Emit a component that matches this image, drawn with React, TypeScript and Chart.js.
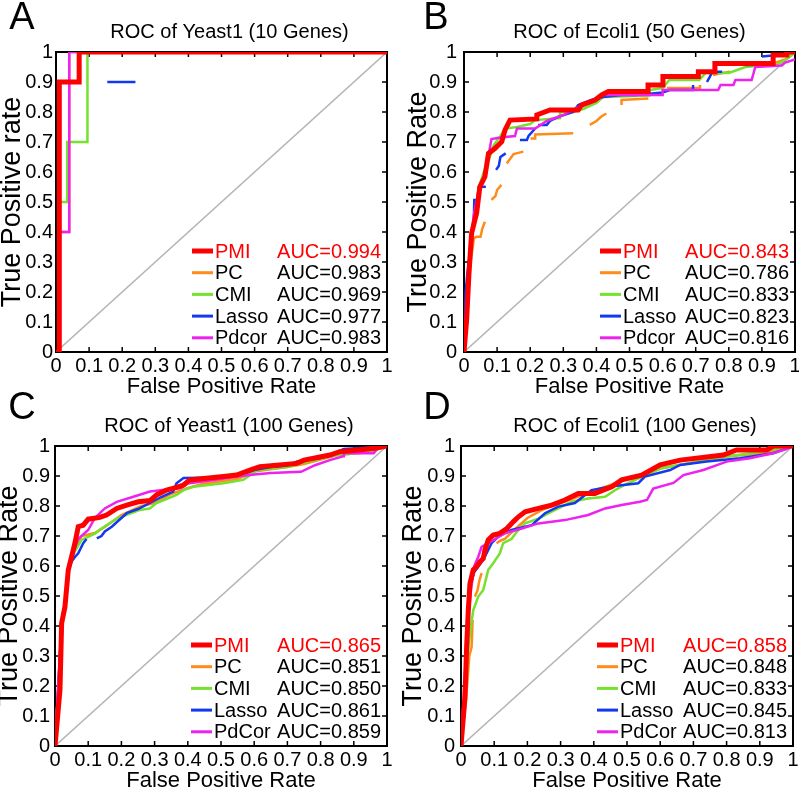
import React, { useEffect, useRef } from 'react';
import { Chart, registerables } from 'chart.js';

Chart.register(...registerables);

type Pt = [number, number] | null;

const FONT = '"Liberation Sans", Arial, Helvetica, sans-serif';

const TICK_VALUES = [0, 0.1, 0.2, 0.3, 0.4, 0.5, 0.6, 0.7, 0.8, 0.9, 1];
const TICK_LABELS = ['0', '0.1', '0.2', '0.3', '0.4', '0.5', '0.6', '0.7', '0.8', '0.9', '1'];

const METHOD_COLORS = ['#ff0000', '#ff8c1a', '#74e22e', '#1438f0', '#ee22ee'];
const METHOD_WIDTHS = [5, 2.5, 2.5, 2.5, 2.5];
const LEGEND_WIDTHS = [5, 3, 3, 3, 3];
const DRAW_ORDER = [0, 4, 3, 2, 1];
const DIAGONAL: Pt[] = [[0, 0], [1, 1]];

// ---------- Panel A : Yeast1 (10 genes) ----------
const A_NAMES = ['PMI', 'PC', 'CMI', 'Lasso', 'Pdcor'];
const A_AUC = ['0.994', '0.983', '0.969', '0.977', '0.983'];
const A_PMI: Pt[] = [[0, 0], [0.01, 0], [0.01, 0.9], [0.07, 0.9], [0.07, 1], [1, 1]];
const A_PC: Pt[] = [[0, 0], [0.01, 0], [0.01, 0.4], [0.04, 0.4], [0.04, 1], [1, 1]];
const A_CMI: Pt[] = [[0, 0], [0.01, 0], [0.01, 0.5], [0.034, 0.5], [0.034, 0.7], [0.095, 0.7], [0.095, 1], [1, 1]];
const A_LASSO: Pt[] = [[0, 0], [0.01, 0], [0.01, 0.9], [0.075, 0.9], null, [0.155, 0.9], [0.24, 0.9], null, [0.3, 1], [1, 1]];
const A_PDCOR: Pt[] = [[0, 0], [0.01, 0], [0.01, 0.4], [0.04, 0.4], [0.04, 1], [1, 1]];

// ---------- Panel B : Ecoli1 (50 genes) ----------
const B_NAMES = ['PMI', 'PC', 'CMI', 'Lasso', 'Pdcor'];
const B_AUC = ['0.843', '0.786', '0.833', '0.823', '0.816'];
const B_PMI: Pt[] = [[0, 0], [0.008, 0.107], [0.015, 0.262], [0.023, 0.396], [0.038, 0.462], [0.048, 0.551], [0.063, 0.584], [0.074, 0.662], [0.094, 0.679], [0.114, 0.701], [0.124, 0.74], [0.139, 0.773], [0.22, 0.777], [0.22, 0.79], [0.26, 0.807], [0.345, 0.807], [0.355, 0.823], [0.396, 0.84], [0.416, 0.857], [0.436, 0.868], [0.556, 0.868], [0.556, 0.89], [0.601, 0.89], [0.601, 0.918], [0.708, 0.918], [0.708, 0.934], [0.758, 0.934], [0.758, 0.962], [0.934, 0.962], [0.934, 0.99], [0.975, 0.99], [0.975, 1], [1, 1]];
const B_PC: Pt[] = [[0, 0], [0.01, 0.15], [0.02, 0.3], [0.03, 0.38], [0.038, 0.384], [0.05, 0.384], [0.055, 0.41], [0.063, 0.434], null, [0.083, 0.507], [0.095, 0.52], [0.1, 0.54], [0.113, 0.557], null, [0.129, 0.628], [0.14, 0.645], [0.15, 0.66], [0.179, 0.668], null, [0.201, 0.712], [0.215, 0.712], [0.215, 0.725], [0.33, 0.729], null, [0.38, 0.757], [0.4, 0.77], [0.415, 0.785], [0.43, 0.795], null, [0.476, 0.823], [0.476, 0.84], [0.557, 0.845], null, [0.613, 0.88], [0.713, 0.88], [0.713, 0.89], null, [0.752, 0.923], [0.78, 0.93], [0.804, 0.934], null, [0.873, 0.962], [0.934, 0.962], [0.97, 0.975], [1, 1]];
const B_CMI: Pt[] = [[0, 0], [0.01, 0.15], [0.02, 0.35], [0.03, 0.45], [0.045, 0.55], [0.06, 0.6], [0.075, 0.64], [0.09, 0.69], [0.11, 0.72], [0.125, 0.745], [0.16, 0.75], [0.2, 0.76], [0.215, 0.773], [0.29, 0.78], [0.29, 0.8], [0.33, 0.8], [0.36, 0.81], [0.4, 0.83], [0.42, 0.85], [0.56, 0.855], [0.56, 0.873], [0.6, 0.88], [0.62, 0.907], [0.711, 0.907], [0.73, 0.93], [0.8, 0.93], [0.85, 0.95], [0.95, 0.96], [0.98, 0.98], [1, 1]];
const B_LASSO: Pt[] = [[0, 0], [0.005, 0.2], [0.01, 0.26], [0.02, 0.35], [0.03, 0.45], [0.031, 0.507], [0.04, 0.507], [0.045, 0.55], [0.066, 0.551], null, [0.097, 0.607], [0.105, 0.62], [0.11, 0.65], [0.126, 0.662], null, [0.169, 0.707], [0.19, 0.707], [0.195, 0.72], [0.215, 0.745], null, [0.224, 0.757], [0.25, 0.757], [0.26, 0.77], [0.285, 0.784], [0.33, 0.8], [0.345, 0.823], [0.385, 0.84], [0.42, 0.85], [0.476, 0.857], [0.52, 0.857], [0.6, 0.865], [0.622, 0.873], [0.692, 0.873], [0.692, 0.89], null, [0.734, 0.9], [0.743, 0.918], [0.75, 0.934], [0.78, 0.934], null, [0.85, 0.957], [0.873, 0.957], null, [0.9, 0.985], [0.95, 0.99], [1, 1]];
const B_PDCOR: Pt[] = [[0, 0], [0.01, 0.2], [0.02, 0.37], [0.03, 0.46], [0.045, 0.54], [0.06, 0.58], [0.07, 0.63], [0.083, 0.71], [0.11, 0.715], [0.154, 0.72], [0.16, 0.745], [0.215, 0.745], [0.25, 0.77], [0.3, 0.79], [0.35, 0.82], [0.4, 0.845], [0.42, 0.857], [0.6, 0.857], [0.6, 0.873], [0.768, 0.873], [0.775, 0.89], [0.814, 0.89], [0.82, 0.907], [0.869, 0.907], [0.875, 0.93], [0.88, 0.95], [0.96, 0.955], [0.97, 0.965], [1, 0.975]];

// ---------- Panel C : Yeast1 (100 genes) ----------
const C_NAMES = ['PMI', 'PC', 'CMI', 'Lasso', 'PdCor'];
const C_AUC = ['0.865', '0.851', '0.850', '0.861', '0.859'];
const C_PMI: Pt[] = [[0, 0], [0.015, 0.187], [0.02, 0.409], [0.03, 0.464], [0.04, 0.587], [0.05, 0.631], [0.06, 0.676], [0.07, 0.731], [0.085, 0.736], [0.1, 0.756], [0.135, 0.762], [0.155, 0.77], [0.186, 0.792], [0.216, 0.803], [0.251, 0.814], [0.286, 0.818], [0.306, 0.837], [0.336, 0.853], [0.366, 0.862], [0.387, 0.87], [0.406, 0.887], [0.507, 0.898], [0.547, 0.903], [0.587, 0.92], [0.617, 0.931], [0.728, 0.942], [0.75, 0.953], [0.828, 0.97], [0.858, 0.981], [0.958, 0.992], [1, 1]];
const C_PC: Pt[] = [[0, 0], [0.01, 0.2], [0.02, 0.4], [0.03, 0.47], [0.04, 0.58], [0.05, 0.62], [0.06, 0.66], [0.08, 0.7], [0.12, 0.71], [0.15, 0.73], [0.2, 0.77], [0.26, 0.8], [0.3, 0.81], [0.35, 0.84], [0.4, 0.86], [0.45, 0.875], [0.55, 0.89], [0.6, 0.915], [0.7, 0.93], [0.75, 0.94], [0.85, 0.97], [0.95, 0.98], [1, 1]];
const C_CMI: Pt[] = [[0, 0], [0.01, 0.2], [0.02, 0.4], [0.03, 0.47], [0.04, 0.58], [0.05, 0.62], [0.06, 0.65], [0.08, 0.687], [0.12, 0.708], [0.14, 0.725], [0.186, 0.758], [0.256, 0.787], [0.286, 0.792], [0.306, 0.81], [0.366, 0.837], [0.387, 0.853], [0.417, 0.864], [0.507, 0.876], [0.567, 0.887], [0.61, 0.92], [0.7, 0.93], [0.75, 0.945], [0.85, 0.97], [0.95, 0.98], [1, 1]];
const C_LASSO: Pt[] = [[0, 0], [0.01, 0.2], [0.02, 0.41], [0.03, 0.47], [0.04, 0.58], [0.05, 0.615], [0.06, 0.63], [0.07, 0.642], [0.085, 0.676], [0.095, 0.69], null, [0.126, 0.692], [0.14, 0.7], [0.15, 0.715], [0.171, 0.731], [0.19, 0.75], [0.216, 0.776], [0.25, 0.79], [0.286, 0.81], [0.32, 0.83], [0.356, 0.848], [0.366, 0.876], [0.387, 0.893], [0.5, 0.895], [0.55, 0.9], [0.6, 0.92], [0.65, 0.93], [0.7, 0.935], [0.728, 0.948], [0.8, 0.96], [0.85, 0.98], [0.87, 0.99], [0.95, 0.995], [1, 1]];
const C_PDCOR: Pt[] = [[0, 0], [0.01, 0.21], [0.02, 0.42], [0.03, 0.48], [0.04, 0.59], [0.05, 0.63], [0.06, 0.66], [0.07, 0.69], [0.1, 0.72], [0.12, 0.76], [0.15, 0.792], [0.186, 0.814], [0.236, 0.831], [0.286, 0.848], [0.336, 0.855], [0.38, 0.86], [0.4, 0.875], [0.5, 0.89], [0.56, 0.9], [0.6, 0.905], [0.65, 0.91], [0.741, 0.914], [0.783, 0.936], [0.828, 0.953], [0.868, 0.966], [0.87, 0.976], [0.96, 0.976], [0.97, 0.99], [1, 1]];

// ---------- Panel D : Ecoli1 (100 genes) ----------
const D_NAMES = ['PMI', 'PC', 'CMI', 'Lasso', 'PdCor'];
const D_AUC = ['0.858', '0.848', '0.833', '0.845', '0.813'];
const D_PMI: Pt[] = [[0, 0], [0.012, 0.164], [0.017, 0.331], [0.022, 0.453], [0.027, 0.542], [0.037, 0.587], [0.047, 0.598], [0.057, 0.614], [0.067, 0.625], [0.072, 0.653], [0.082, 0.687], [0.097, 0.703], [0.117, 0.709], [0.138, 0.725], [0.158, 0.748], [0.173, 0.764], [0.193, 0.781], [0.233, 0.792], [0.273, 0.803], [0.313, 0.82], [0.353, 0.842], [0.403, 0.842], [0.454, 0.864], [0.484, 0.887], [0.544, 0.903], [0.6, 0.937], [0.66, 0.953], [0.79, 0.97], [0.83, 0.987], [0.921, 0.987], [0.941, 1], [1, 1]];
const D_PC: Pt[] = [[0, 0], [0.015, 0.15], [0.025, 0.3], [0.032, 0.33], [0.035, 0.42], null, [0.042, 0.498], [0.05, 0.52], [0.055, 0.55], [0.062, 0.576], null, [0.107, 0.676], [0.12, 0.685], [0.132, 0.69], [0.16, 0.72], [0.2, 0.76], [0.25, 0.79], [0.3, 0.81], [0.35, 0.83], [0.4, 0.85], [0.45, 0.87], [0.5, 0.89], [0.55, 0.9], [0.6, 0.925], [0.7, 0.945], [0.8, 0.965], [0.9, 0.975], [0.95, 0.985], [1, 1]];
const D_CMI: Pt[] = [[0, 0], [0.012, 0.15], [0.02, 0.3], [0.027, 0.376], [0.037, 0.453], [0.052, 0.498], [0.067, 0.52], [0.082, 0.587], [0.097, 0.609], [0.117, 0.642], [0.127, 0.676], [0.152, 0.69], [0.168, 0.714], [0.193, 0.742], [0.233, 0.758], [0.273, 0.781], [0.333, 0.814], [0.383, 0.825], [0.434, 0.831], [0.464, 0.853], [0.5, 0.875], [0.55, 0.9], [0.6, 0.925], [0.7, 0.945], [0.8, 0.965], [0.9, 0.98], [0.95, 0.99], [1, 1]];
const D_LASSO: Pt[] = [[0, 0], [0.012, 0.16], [0.017, 0.32], [0.022, 0.44], [0.027, 0.53], [0.04, 0.58], [0.06, 0.61], [0.072, 0.631], [0.092, 0.676], [0.112, 0.698], [0.152, 0.72], [0.213, 0.736], [0.253, 0.776], [0.293, 0.798], [0.343, 0.81], [0.393, 0.853], [0.45, 0.865], [0.534, 0.876], [0.554, 0.898], [0.63, 0.92], [0.66, 0.937], [0.74, 0.948], [0.84, 0.959], [0.94, 0.976], [0.97, 0.987], [1, 1]];
const D_PDCOR: Pt[] = [[0, 0], [0.01, 0.2], [0.02, 0.4], [0.03, 0.52], [0.04, 0.6], [0.052, 0.631], [0.062, 0.664], [0.082, 0.676], [0.132, 0.709], [0.183, 0.725], [0.233, 0.742], [0.313, 0.753], [0.383, 0.77], [0.434, 0.792], [0.484, 0.803], [0.539, 0.814], [0.56, 0.82], [0.579, 0.858], [0.64, 0.877], [0.67, 0.903], [0.73, 0.92], [0.8, 0.948], [0.87, 0.959], [0.94, 0.976], [0.98, 0.99], [1, 1]];

const X_AXIS_H = 46;

interface PanelCfg {
  letter: string;
  title: string;
  yTitle: string;
  names: string[];
  auc: string[];
  series: Pt[][];
  box: { left: number; top: number; w: number; h: number };
  area: { l: number; r: number; t: number; b: number };
  titleDx: number;
  yTitleX: number;
  yTickPad: number;
  letterPos: [number, number];
}

const PANELS: PanelCfg[] = [
  {
    letter: 'A', title: 'ROC of Yeast1 (10 Genes)', yTitle: 'True Positive rate',
    names: A_NAMES, auc: A_AUC, series: [A_PMI, A_PC, A_CMI, A_LASSO, A_PDCOR],
    box: { left: 0, top: 0, w: 400, h: 400 }, area: { l: 56, r: 387, t: 52, b: 352 },
    titleDx: 8, yTitleX: 13, yTickPad: 3, letterPos: [22, 19],
  },
  {
    letter: 'B', title: 'ROC of Ecoli1 (50 Genes)', yTitle: 'True Positive Rate',
    names: B_NAMES, auc: B_AUC, series: [B_PMI, B_PC, B_CMI, B_LASSO, B_PDCOR],
    box: { left: 400, top: 0, w: 399, h: 400 }, area: { l: 64, r: 395, t: 52, b: 352 },
    titleDx: 0, yTitleX: 18.5, yTickPad: 7, letterPos: [36, 19],
  },
  {
    letter: 'C', title: 'ROC of Yeast1 (100 Genes)', yTitle: 'True Positive Rate',
    names: C_NAMES, auc: C_AUC, series: [C_PMI, C_PC, C_CMI, C_LASSO, C_PDCOR],
    box: { left: 0, top: 392, w: 400, h: 400 }, area: { l: 55, r: 387, t: 54, b: 354 },
    titleDx: 8, yTitleX: 10, yTickPad: 5, letterPos: [22, 16.5],
  },
  {
    letter: 'D', title: 'ROC of Ecoli1 (100 Genes)', yTitle: 'True Positive Rate',
    names: D_NAMES, auc: D_AUC, series: [D_PMI, D_PC, D_CMI, D_LASSO, D_PDCOR],
    box: { left: 400, top: 392, w: 399, h: 400 }, area: { l: 61, r: 393, t: 54, b: 354 },
    titleDx: 8, yTitleX: 13.5, yTickPad: 6, letterPos: [37, 16.5],
  },
];

function toXY(s: Pt[]) {
  return s.map((p) => (p ? { x: p[0], y: p[1] } : { x: null, y: null }));
}

function makeDecor(cfg: PanelCfg) {
  return {
    id: 'decor' + cfg.letter,
    beforeDatasetsDraw(chart: any) {
      const { ctx, chartArea: ca } = chart;
      const xs = chart.scales.x;
      const ys = chart.scales.y;
      ctx.save();
      ctx.strokeStyle = '#000';
      ctx.lineWidth = 1.5;
      ctx.beginPath();
      xs.ticks.forEach((t: any) => {
        const px = xs.getPixelForValue(t.value);
        ctx.moveTo(px, ca.bottom);
        ctx.lineTo(px, ca.bottom - 5);
        ctx.moveTo(px, ca.top);
        ctx.lineTo(px, ca.top + 5);
      });
      ys.ticks.forEach((t: any) => {
        const py = ys.getPixelForValue(t.value);
        ctx.moveTo(ca.left, py);
        ctx.lineTo(ca.left + 5, py);
        ctx.moveTo(ca.right, py);
        ctx.lineTo(ca.right - 5, py);
      });
      ctx.stroke();
      ctx.lineWidth = 2;
      ctx.strokeRect(ca.left, ca.top, ca.right - ca.left, ca.bottom - ca.top);
      ctx.restore();
    },
    afterDraw(chart: any) {
      const { ctx, chartArea: ca } = chart;
      ctx.save();
      // legend
      ctx.font = `20px ${FONT}`;
      ctx.textBaseline = 'middle';
      cfg.names.forEach((name, i) => {
        const y = ca.bottom - 101 + i * 21.7;
        ctx.strokeStyle = METHOD_COLORS[i];
        ctx.lineWidth = LEGEND_WIDTHS[i];
        ctx.beginPath();
        ctx.moveTo(ca.left + 136, y);
        ctx.lineTo(ca.left + 157, y);
        ctx.stroke();
        ctx.fillStyle = i === 0 ? METHOD_COLORS[0] : '#000';
        ctx.textAlign = 'left';
        ctx.fillText(name, ca.left + 159, y + 1);
        ctx.textAlign = 'right';
        ctx.fillText('AUC=' + cfg.auc[i], ca.right - 6, y + 1);
      });
      // title
      ctx.fillStyle = '#000';
      ctx.textAlign = 'center';
      ctx.font = `20px ${FONT}`;
      ctx.fillText(cfg.title, (ca.left + ca.right) / 2 + cfg.titleDx, ca.top - 20);
      // panel letter
      ctx.font = `38px ${FONT}`;
      ctx.fillText(cfg.letter, cfg.letterPos[0], cfg.letterPos[1]);
      ctx.restore();
    },
  };
}

function Panel({ cfg }: { cfg: PanelCfg }) {
  const ref = useRef<HTMLCanvasElement>(null);
  useEffect(() => {
    const canvas = ref.current;
    if (!canvas) return;
    const { w, h } = cfg.box;
    const a = cfg.area;
    const datasets: any[] = cfg.series.map((s, i) => ({
      label: cfg.names[i],
      data: toXY(s),
      borderColor: METHOD_COLORS[i],
      backgroundColor: METHOD_COLORS[i],
      borderWidth: METHOD_WIDTHS[i],
      pointRadius: 0,
      tension: 0,
      fill: false,
      spanGaps: false,
      order: DRAW_ORDER[i],
    }));
    datasets.push({
      label: 'diagonal',
      data: toXY(DIAGONAL),
      borderColor: '#b4b4b4',
      borderWidth: 1.5,
      pointRadius: 0,
      fill: false,
      order: 9,
    });
    const chart = new Chart(canvas, {
      type: 'line',
      data: { datasets },
      options: {
        animation: false,
        responsive: false,
        devicePixelRatio: 1,
        layout: { padding: { left: 0, top: a.t, right: w - a.r, bottom: h - a.b - X_AXIS_H } },
        plugins: { legend: { display: false }, tooltip: { enabled: false }, title: { display: false } },
        elements: { line: { borderCapStyle: 'butt', borderJoinStyle: 'miter' } },
        scales: {
          x: {
            type: 'linear', min: 0, max: 1, position: 'bottom',
            afterBuildTicks: (s: any) => { s.ticks = TICK_VALUES.map((v) => ({ value: v })); },
            afterFit: (s: any) => { s.height = X_AXIS_H; s.paddingLeft = 0; s.paddingRight = 0; },
            grid: { display: false, drawTicks: false },
            border: { display: false },
            ticks: {
              autoSkip: false, maxRotation: 0, minRotation: 0, padding: 2, color: '#000',
              font: { family: FONT, size: 20 },
              callback: (_v: any, i: number) => TICK_LABELS[i],
            },
            title: {
              display: true, text: 'False Positive Rate', color: '#000',
              font: { family: FONT, size: 22, lineHeight: 1 }, padding: { top: 0, bottom: 0 },
            },
          },
          y: {
            type: 'linear', min: 0, max: 1, position: 'left',
            afterBuildTicks: (s: any) => { s.ticks = TICK_VALUES.map((v) => ({ value: v })); },
            afterFit: (s: any) => { s.width = a.l; s.paddingTop = 0; s.paddingBottom = 0; },
            grid: { display: false, drawTicks: false },
            border: { display: false },
            ticks: {
              autoSkip: false, padding: cfg.yTickPad, color: '#000',
              font: { family: FONT, size: 20 },
              callback: (_v: any, i: number) => TICK_LABELS[i],
            },
            title: {
              display: true, text: cfg.yTitle, color: '#000',
              font: { family: FONT, size: 27, lineHeight: 1 }, padding: { top: cfg.yTitleX - 13.5, bottom: 0 },
            },
          },
        },
      } as any,
      plugins: [makeDecor(cfg)],
    });
    return () => chart.destroy();
  }, [cfg]);
  return (
    <canvas
      ref={ref}
      width={cfg.box.w}
      height={cfg.box.h}
      style={{ position: 'absolute', left: cfg.box.left, top: cfg.box.top, width: cfg.box.w, height: cfg.box.h }}
    />
  );
}

export default function App() {
  return (
    <div style={{ position: 'absolute', left: 0, top: 0, width: 799, height: 792, background: '#fff', overflow: 'hidden' }}>
      {PANELS.map((p) => (
        <Panel key={p.letter} cfg={p} />
      ))}
    </div>
  );
}
